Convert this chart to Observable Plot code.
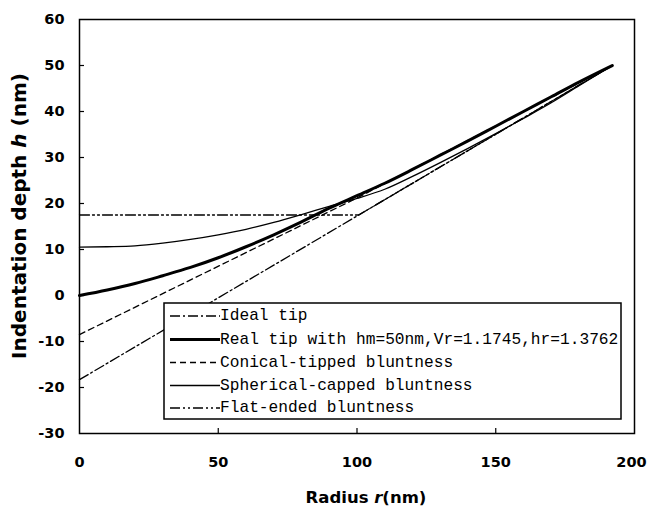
<!DOCTYPE html>
<html>
<head>
<meta charset="utf-8">
<script src="https://cdn.jsdelivr.net/npm/d3@7"></script>
<script src="https://cdn.jsdelivr.net/npm/@observablehq/plot@0.6"></script>
<style>
  html, body { margin: 0; padding: 0; background: #fff; }
  #chart svg { display: block; }
  #chart g[aria-label="x-axis tick label"] text,
  #chart g[aria-label="y-axis tick label"] text {
    font-family: "DejaVu Sans", sans-serif; font-weight: bold; font-size: 14.5px; fill: #000;
  }
</style>
</head>
<body>
<div id="chart"></div>
<script>
// ---- data ----
const xTickValues = [0, 50, 100, 150, 200];
const yTickValues = [-30, -20, -10, 0, 10, 20, 30, 40, 50, 60];

const seriesNames = [
  "Ideal tip",
  "Real tip with hm=50nm,Vr=1.1745,hr=1.3762",
  "Conical-tipped bluntness",
  "Spherical-capped bluntness",
  "Flat-ended bluntness"
];

const idealR = [0, 192];
const idealH = [-18.3, 50];

const realR = [0, 10, 20, 30, 40, 50, 60, 70, 80, 90, 100, 110, 120, 130, 140, 150, 160, 170, 180, 192];
const realH = [0, 1.2, 2.6, 4.3, 6.1, 8.2, 10.6, 13.2, 16.0, 19.0, 21.7, 24.4, 27.4, 30.5, 33.6, 36.8, 40.0, 43.2, 46.4, 50];

const conicalR = [0, 100, 192];
const conicalH = [-8.5, 21.2, 50];

const sphericalR = [0, 10, 20, 30, 40, 50, 60, 70, 80, 90, 100, 110, 120, 130, 140, 150, 160, 170, 180, 192];
const sphericalH = [10.5, 10.6, 10.8, 11.4, 12.2, 13.2, 14.4, 15.9, 17.6, 19.4, 21.1, 23.1, 25.9, 28.9, 32.0, 35.2, 38.5, 41.9, 45.6, 50];

const flatR = [0, 100.6, 192];
const flatH = [17.5, 17.5, 50];

// ---- build tables ----
const zip = (rs, hs) => rs.map((r, i) => ({r, h: hs[i]}));
const ideal = zip(idealR, idealH);
const real = zip(realR, realH);
const conical = zip(conicalR, conicalH);
const spherical = zip(sphericalR, sphericalH);
const flat = zip(flatR, flatH);

const W = 647, H = 510;
const mL = 79, mR = 13, mT = 19, mB = 77;
const plotW = W - mL - mR, plotH = H - mT - mB;

const styles = [
  {strokeWidth: 1.3, dash: "10,3,2,3"},      // ideal
  {strokeWidth: 3,   dash: null},            // real
  {strokeWidth: 1.3, dash: "6,4"},           // conical
  {strokeWidth: 1.3, dash: null},            // spherical
  {strokeWidth: 1.3, dash: "10,3,2,3,2,3"}   // flat
];

const lineMark = (data, s, curve) => Plot.line(data, {
  x: "r", y: "h", stroke: "black", strokeWidth: s.strokeWidth,
  strokeDasharray: s.dash || undefined, curve: curve || "linear"
});

const fmt = d => String(d);

const svg = Plot.plot({
  width: W, height: H,
  marginLeft: mL, marginRight: mR, marginTop: mT, marginBottom: mB,
  style: {fontFamily: "DejaVu Sans, sans-serif", background: "white"},
  x: {domain: [0, 200]},
  y: {domain: [-30, 60]},
  marks: [
    Plot.axisX({ticks: xTickValues, tickSize: 0, tickPadding: 23, tickFormat: fmt, label: null}),
    Plot.axisY({ticks: yTickValues, tickSize: 0, tickPadding: 15, tickFormat: fmt, label: null}),
    Plot.tickX(xTickValues.slice(1, -1), {x: d => d, stroke: "black", strokeWidth: 1.2, insetTop: plotH - 5}),
    Plot.tickY(yTickValues.slice(1, -1), {y: d => d, stroke: "black", strokeWidth: 1.2, insetRight: plotW - 5}),
    lineMark(ideal, styles[0]),
    lineMark(conical, styles[2]),
    lineMark(flat, styles[4]),
    lineMark(spherical, styles[3], "monotone-x"),
    lineMark(real, styles[1], "monotone-x"),
    Plot.frame({stroke: "black", strokeWidth: 1.5})
  ]
});

document.getElementById("chart").appendChild(svg);

const s = d3.select(svg);

// keep the last x tick label inside the picture
const xLabels = s.selectAll('g[aria-label="x-axis tick label"] text').nodes();
if (xLabels.length) d3.select(xLabels[xLabels.length - 1]).attr("dx", -3);

// axis titles
const yt = s.append("text")
  .attr("transform", "translate(19,216) rotate(-90)")
  .attr("text-anchor", "middle")
  .attr("dominant-baseline", "central")
  .style("font-family", "DejaVu Sans, sans-serif")
  .style("font-weight", "bold")
  .style("font-size", "20px")
  .attr("fill", "black");
yt.append("tspan").text("Indentation depth ");
yt.append("tspan").style("font-style", "italic").text("h");
yt.append("tspan").text(" (nm)");

const xt = s.append("text")
  .attr("x", 366).attr("y", 503)
  .attr("text-anchor", "middle")
  .style("font-family", "DejaVu Sans, sans-serif")
  .style("font-weight", "bold")
  .style("font-size", "16.5px")
  .attr("fill", "black");
xt.append("tspan").text("Radius ");
xt.append("tspan").style("font-style", "italic").text("r");
xt.append("tspan").text("(nm)");

// legend box
const lg = s.append("g").attr("text-anchor", "start");
lg.append("rect")
  .attr("x", 164).attr("y", 303).attr("width", 457).attr("height", 116)
  .attr("fill", "white").attr("stroke", "black").attr("stroke-width", 1.5);
const rowY = [316, 339.5, 362.5, 385.5, 408];
seriesNames.forEach((name, i) => {
  lg.append("line")
    .attr("x1", 170).attr("x2", 220).attr("y1", rowY[i]).attr("y2", rowY[i])
    .attr("stroke", "black").attr("stroke-width", styles[i].strokeWidth)
    .attr("stroke-dasharray", styles[i].dash);
  lg.append("text")
    .attr("x", 220).attr("y", rowY[i])
    .attr("text-anchor", "start")
    .attr("dominant-baseline", "central")
    .style("font-family", "Liberation Mono, monospace")
    .style("font-size", "16.2px")
    .attr("fill", "black")
    .text(name);
});
</script>
</body>
</html>
